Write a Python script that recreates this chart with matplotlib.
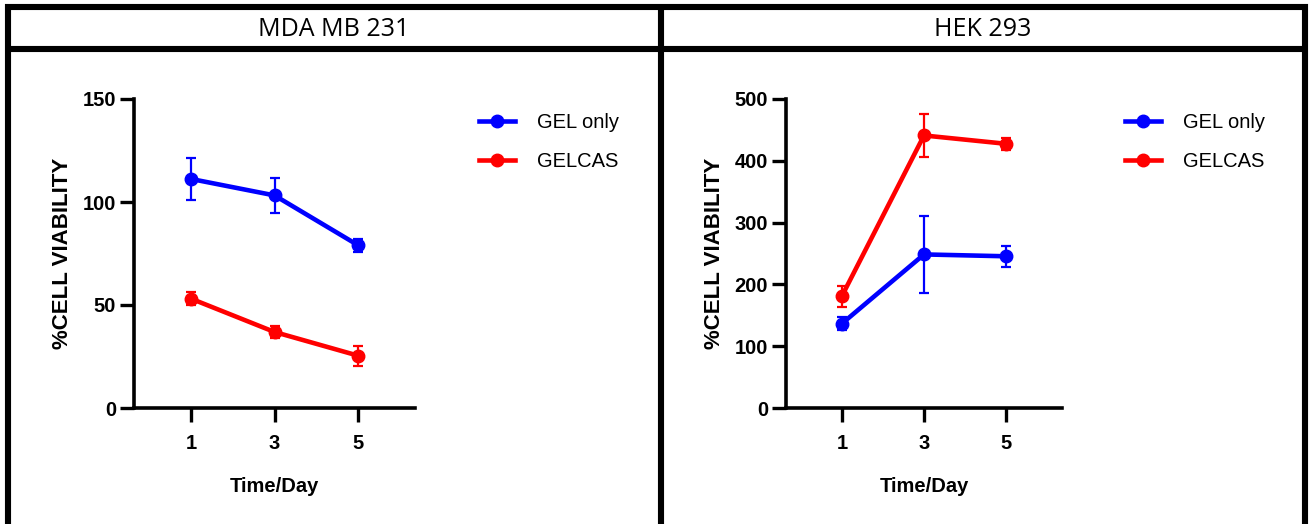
import matplotlib.pyplot as plt
from matplotlib.lines import Line2D

# data
days = [1, 3, 5]
mda_gel = [111.2, 103.2, 79.0]
mda_gel_err = [10.4, 8.3, 3.2]
mda_gelcas = [53.1, 36.9, 25.4]
mda_gelcas_err = [3.3, 3.0, 4.9]
hek_gel = [136.5, 248.5, 245.5]
hek_gel_err = [11, 62, 17]
hek_gelcas = [181, 441, 427.5]
hek_gelcas_err = [17, 35, 9.5]

titles = ['MDA MB 231', 'HEK 293']
series_names = ['GEL only', 'GELCAS']
mda_yticks = [0, 50, 100, 150]
hek_yticks = [0, 100, 200, 300, 400, 500]

W, H = 1311, 524
fig = plt.figure(figsize=(W / 100, H / 100), dpi=100)

def fx(px):
    return px / W

def fy(py):
    return 1 - py / H

# table border lines (pixel coords from the top left)
lw_border = 4.4
for y in [7, 49]:
    fig.add_artist(Line2D([fx(5), fx(1308)], [fy(y), fy(y)], color='black', lw=lw_border,
                          transform=fig.transFigure, solid_capstyle='butt'))
for x in [8, 660.5, 1305]:
    fig.add_artist(Line2D([fx(x), fx(x)], [fy(4), fy(H)], color='black', lw=lw_border,
                          transform=fig.transFigure, solid_capstyle='butt'))

fig.text(fx(334), fy(29), titles[0], ha='center', va='center', fontsize=18, family='Open Sans')
fig.text(fx(983), fy(29), titles[1], ha='center', va='center', fontsize=18, family='Open Sans')

font = 'Liberation Sans'


def make_panel(left_px, width_px, gel, gel_err, gelcas, gelcas_err, yticks, leg_x):
    ax = fig.add_axes([fx(left_px), fy(408), fx(width_px), (408 - 99) / H])
    e1 = ax.errorbar(days, gel, yerr=gel_err, color='#0000FF', lw=3.3, marker='o', ms=9,
                     elinewidth=1.6, capsize=3.8, capthick=1.6)
    e2 = ax.errorbar(days, gelcas, yerr=gelcas_err, color='#FF0000', lw=3.3, marker='o', ms=9,
                     elinewidth=1.6, capsize=3.8, capthick=1.6)
    ax.set_xlim(-0.36, 6.36)
    ax.set_ylim(0, yticks[-1])
    ax.set_xticks(days)
    ax.set_yticks(yticks)
    ax.spines['top'].set_visible(False)
    ax.spines['right'].set_visible(False)
    ax.spines['left'].set_linewidth(2.6)
    ax.spines['bottom'].set_linewidth(2.6)
    ax.tick_params(length=10, width=2.4, pad=3)
    ax.tick_params(axis='x', pad=9)
    for lab in ax.get_xticklabels() + ax.get_yticklabels():
        lab.set_fontfamily(font)
        lab.set_fontweight('bold')
        lab.set_fontsize(14.5)
    ax.set_xlabel('Time/Day', fontsize=14.5, fontweight='bold', family=font, labelpad=17)
    ax.set_ylabel('%CELL VIABILITY', fontsize=16, fontweight='bold', family=font, labelpad=7)
    ax.legend([e1[0], e2[0]], series_names, loc='center left', frameon=False,
              bbox_to_anchor=(fx(leg_x), fy(142)), bbox_transform=fig.transFigure,
              borderpad=0, borderaxespad=0, handlelength=1.8, handletextpad=1.1,
              labelspacing=1.0, prop={'family': font, 'size': 14.5})
    return ax


make_panel(134, 281, mda_gel, mda_gel_err, mda_gelcas, mda_gelcas_err, mda_yticks, 479)
make_panel(786, 276, hek_gel, hek_gel_err, hek_gelcas, hek_gelcas_err, hek_yticks, 1125)

plt.savefig('out.png', dpi=100)
